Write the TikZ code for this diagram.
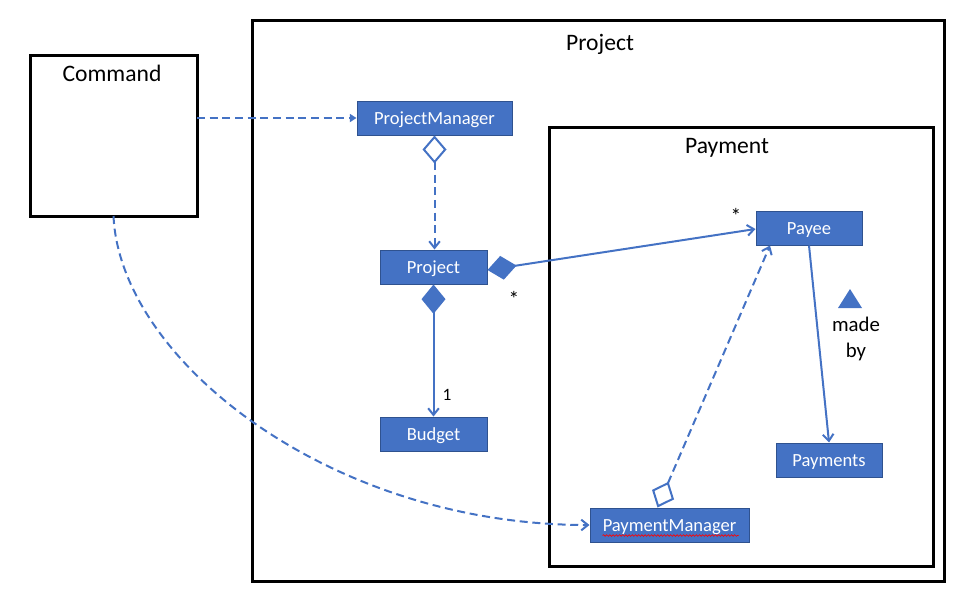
\documentclass[tikz,border=0pt]{standalone}
\usepackage{fontspec}
\setmainfont{Carlito}
\usetikzlibrary{arrows.meta,calc,decorations.pathmorphing}
\definecolor{umlblue}{HTML}{4472C4}
\definecolor{umledge}{HTML}{2F528F}
\tikzset{
  cls/.style={draw=umledge, line width=0.75pt, fill=umlblue, text=white, inner sep=0pt,
    minimum height=25.5pt, text height=11pt, text depth=1.6pt, font=\fontsize{13.9}{16}\selectfont},
  frame/.style={draw=black, line width=2.25pt},
  title/.style={font=\fontsize{17.7}{20}\selectfont, text=black},
  conn/.style={draw=umlblue, line width=1.5pt},
  dsh/.style={dash pattern=on 6pt off 3.5pt},
  openhead/.style={-{Straight Barb[length=5pt,width=8pt]}},
  odiam/.style={{Diamond[open,length=21pt,width=18pt,fill=white]}-{Straight Barb[length=5pt,width=8pt]}},
  fdiam/.style={{Diamond[length=22pt,width=18pt]}-{Straight Barb[length=5pt,width=8pt]}},
  mult/.style={font=\fontsize{13}{15}\selectfont, text=black, inner sep=0pt},
  star/.style={font=\fontsize{16}{18}\selectfont, text=black, inner sep=0pt}
}
\begin{document}
\begin{tikzpicture}[x=0.75pt,y=-0.75pt]
\useasboundingbox (0,0) rectangle (980,615);
% frames
\draw[frame] (252,20) rectangle (944,581);
\draw[frame] (549,127) rectangle (933,566);
\draw[frame] (30,55) rectangle (197,216);
\coordinate (cmdS) at (113.5,216);
\coordinate (cmdE) at (197,118);
\node[title] (tProject) at (600,44) {Project};
\node[title] (tPayment) at (727,148) {Payment};
\node[title] (tCommand) at (112,73) {Command};
% class boxes
\node[cls, minimum width=116.25pt] (PM) at (434.5,118) {ProjectManager};
\node[cls, minimum width=80.25pt] (Proj) at (433.5,267) {Project};
\node[cls, minimum width=80.25pt] (Bud) at (433.5,434) {Budget};
\node[cls, minimum width=79.5pt] (Payee) at (809,228) {Payee};
\node[cls, minimum width=79.5pt] (Pays) at (829,460) {Payments};
\node[cls, minimum width=119.25pt] (PayMgr) at (669.5,525) {PaymentManager};
% spell-check squiggle
\draw[red, line width=0.5pt, decorate, decoration={snake, amplitude=0.6pt, segment length=2.4pt}]
  ($(PayMgr.south west)+(13,-7)$) -- ($(PayMgr.south east)+(-11,-7)$);
% connectors
\draw[conn, dsh, -{Triangle[length=5pt,width=6pt]}] (cmdE) -- (PM.west |- cmdE);
\draw[conn, dsh, odiam] (PM.south) -- (PM.south |- Proj.north);
\draw[conn, fdiam] (Proj.south) -- (Bud.north);
\draw[conn, fdiam] ($(Proj.east)+(0,3)$) -- ($(Payee.west)+(0,1)$);
\draw[conn, openhead] (Payee.south) -- (Pays.north);
\coordinate (pmTop) at ($(PayMgr.north)+(-12,0)$);
\coordinate (payeeB) at ($(Payee.south)+(-39,0)$);
\draw[conn, dsh, odiam] (pmTop) -- (payeeB);
\draw[conn, dsh, openhead] (cmdS) .. controls (120,360) and (330,525) .. (PayMgr.west);
% labels
\node[mult] (one) at (447,395) {1};
\node[star] (s1) at (514,299) {*};
\node[star] (s2) at (736,216) {*};
\fill[umlblue] (838,308) -- (862,308) -- (850,289) -- cycle;
\node[font=\fontsize{15.6}{19}\selectfont, align=center, inner sep=0pt] (madeby) at (856,339) {made\\by};
\end{tikzpicture}
\end{document}
